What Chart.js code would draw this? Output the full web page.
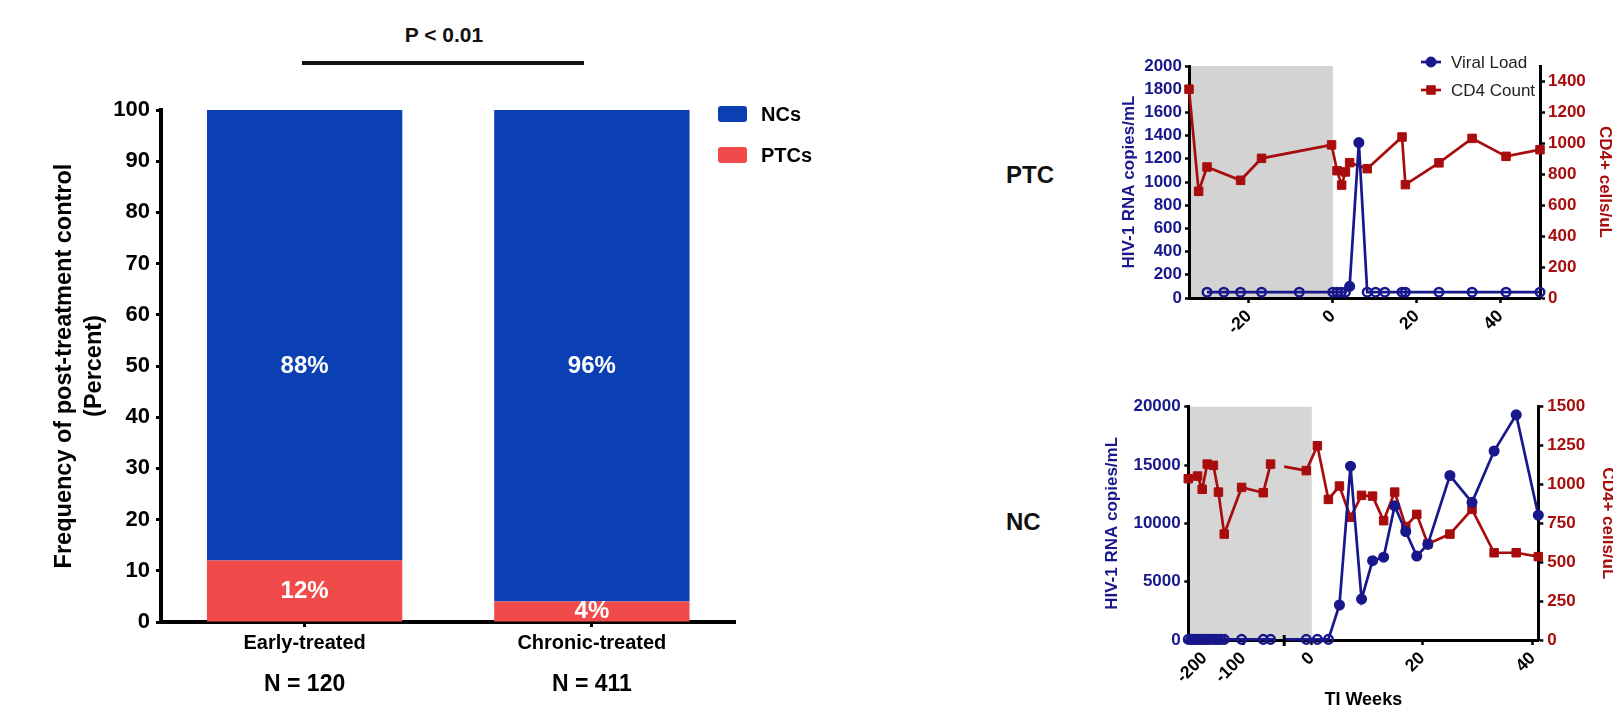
<!DOCTYPE html>
<html>
<head>
<meta charset="utf-8">
<script src="https://cdn.jsdelivr.net/npm/chart.js@4.4.1/dist/chart.umd.min.js"></script>
<style>
    html, body { margin: 0; padding: 0; background: #fff; }
    body { width: 1613px; height: 709px; position: relative; overflow: hidden; font-family: 'Liberation Sans', Arial, sans-serif; }
    canvas { position: absolute; }
    #pValue { position: absolute; left: 344px; width: 200px; top: 22px; text-align: center; font-size: 21px; line-height: 26px; font-weight: bold; color: #111; }
    #pBar { position: absolute; left: 302px; top: 61px; width: 282px; height: 4px; background: #111; }
    .panelLabel { position: absolute; left: 1006px; font-size: 24px; line-height: 28px; font-weight: bold; color: #111; }
</style>
</head>
<body>

<div id="pValue">P &lt; 0.01</div>
<div id="pBar"></div>
<div class="panelLabel" style="top:161px;">PTC</div>
<div class="panelLabel" style="top:508px;">NC</div>

<canvas id="barChart" width="1000" height="709" style="left:0;top:0;"></canvas>
<canvas id="ptcChart" width="570" height="310" style="left:1060px;top:30px;"></canvas>
<canvas id="ncChart" width="570" height="350" style="left:1060px;top:370px;"></canvas>

<script>
/***************** DATA *****************/

// left panel: outcome by treatment timing
const treatmentGroups = ['Early-treated', 'Chronic-treated'];
const groupSizes = ['N = 120', 'N = 411'];
const ptcPercent = [12, 4];
const ncPercent = [88, 96];
const percentTicks = [0, 10, 20, 30, 40, 50, 60, 70, 80, 90, 100];

// PTC participant (weeks relative to treatment interruption)
const ptcVLWeeks = [-30, -26, -22, -17, -8, 0, 1, 2, 3, 4, 6.2, 8.2, 10.2, 12.4, 16.5, 17.3, 25.3, 33.2, 41.3, 49.4];
const ptcViralLoad = [50, 50, 50, 50, 50, 50, 50, 50, 50, 100, 1340, 50, 50, 50, 50, 50, 50, 50, 50, 50];
const ptcCD4Weeks = [-34.3, -32, -30, -22, -17, -0.3, 1, 2.1, 3, 4, 8.2, 16.5, 17.3, 25.3, 33.2, 41.3, 49.4];
const ptcCD4 = [1350, 690, 847, 761, 903, 990, 823, 730, 815, 875, 836, 1041, 733, 874, 1032, 916, 959];
const ptcWeekTicks = [-20, 0, 20, 40];
const ptcVLTicks = [0, 200, 400, 600, 800, 1000, 1200, 1400, 1600, 1800, 2000];
const ptcCD4Ticks = [0, 200, 400, 600, 800, 1000, 1200, 1400];

// NC participant
const ncVLWeeks = [-242, -235, -229, -224, -218, -212, -206, -199, -193, -186, -177, -170, -164, -157, -149, -104, -48, -29,
                   -1, 1, 3, 5, 7, 9, 11, 13, 15, 17, 19, 21, 25, 29, 33, 37, 41];
const ncViralLoad = [50, 50, 50, 50, 50, 50, 50, 50, 50, 50, 50, 50, 50, 50, 50, 50, 50, 50,
                     50, 50, 50, 3000, 14900, 3500, 6800, 7100, 11500, 9300, 7200, 8200, 14100, 11800, 16200, 19300, 10700];
const ncCD4Weeks = [-242, -218, -206, -193, -177, -164, -149, -104, -48, -29,
                    -1, 1, 3, 5, 7, 9, 11, 13, 15, 17, 19, 21, 25, 29, 33, 37, 41];
const ncCD4 = [1037, 1054, 969, 1131, 1123, 951, 681, 981, 947, 1131,
               1089, 1249, 904, 990, 789, 930, 925, 767, 951, 730, 808, 617, 681, 840, 561, 561, 536];
const ncWeekTicks = [-200, -100, 0, 20, 40];
const ncVLTicks = [0, 5000, 10000, 15000, 20000];
const ncCD4Ticks = [0, 250, 500, 750, 1000, 1250, 1500];

const detectionLimit = 50;

/***************** COLOURS / DEFAULTS *****************/
const ncBlue = '#0b40b5';
const ptcRed = '#f04a4a';
const navy = '#18188c';
const crimson = '#a80c0c';
const fontStack = "'Liberation Sans', Arial, sans-serif";

Chart.defaults.font.family = fontStack;
Chart.defaults.color = '#000';
Chart.defaults.animation = false;
Chart.defaults.events = [];
Chart.defaults.plugins.legend.display = false;
Chart.defaults.plugins.tooltip.enabled = false;

/***************** GENERIC SETTINGS *****************/
function tickFont(size) {
    return { size: size, weight: 'bold' };
}

function createAxisBorder(width) {
    return { display: true, color: '#000', width: width };
}

function createTickMarks(length, width) {
    return {
        drawOnChartArea: false,
        drawTicks: true,
        tickLength: length,
        tickWidth: width,
        tickColor: '#000'
    };
}

function createAxisTitle(text, color, size, pad) {
    return {
        display: true,
        text: text,
        color: color,
        font: { size: size, weight: 'bold' },
        padding: { top: pad, bottom: pad }
    };
}

function createTicks(color, size, padding, rotate) {
    const t = { color: color, font: tickFont(size), padding: padding, autoSkip: false, callback: v => String(v) };
    if (rotate) {
        t.minRotation = 45;
        t.maxRotation = 45;
    }
    return t;
}

function fixedTicks(values) {
    return function (scale) {
        scale.ticks = values.map(v => ({ value: v }));
    };
}

function toPoints(xs, ys) {
    return xs.map((x, i) => ({ x: x, y: ys[i] }));
}

// linear axis cut into pieces, like a broken axis in Prism
class SegmentedScale extends Chart.LinearScale {
    getPixelForValue(value) {
        const segs = this.options.segments;
        let seg = segs[segs.length - 1];
        for (let i = 0; i < segs.length; i++) {
            if (value <= segs[i].max) { seg = segs[i]; break; }
        }
        const t = (value - seg.min) / (seg.max - seg.min);
        return this.getPixelForDecimal(seg.from + t * (seg.to - seg.from));
    }
    getValueForPixel(pixel) {
        const d = this.getDecimalForPixel(pixel);
        const segs = this.options.segments;
        for (let i = 0; i < segs.length; i++) {
            const s = segs[i];
            if (d <= s.to) return s.min + (d - s.from) / (s.to - s.from) * (s.max - s.min);
        }
        return segs[segs.length - 1].max;
    }
}
SegmentedScale.id = 'segmented';
SegmentedScale.defaults = Chart.LinearScale.defaults;
Chart.register(SegmentedScale);

// leave a gap in a line where it jumps over the axis break
function breakGapDash(ctx) {
    const x = ctx.chart.scales.x;
    const segs = x.options.segments;
    if (!segs || segs.length < 2) return undefined;
    const gapStart = x.getPixelForDecimal(segs[0].to);
    const gapEnd = x.getPixelForDecimal(segs[1].from);
    const p0 = ctx.p0, p1 = ctx.p1;
    if (!(p0.x < gapStart && p1.x > gapEnd)) return undefined;
    const dx = p1.x - p0.x;
    const len = Math.hypot(dx, p1.y - p0.y);
    const k = len / dx;
    return [(gapStart - p0.x) * k, (gapEnd - gapStart) * k, len];
}

/***************** PLUGINS *****************/
const barLabels = {
    id: 'barLabels',
    afterDatasetsDraw(chart) {
        const ctx = chart.ctx;
        const y = chart.scales.y;
        const meta = chart.getDatasetMeta(0);
        ctx.save();
        ctx.fillStyle = '#fff';
        ctx.font = 'bold 24px ' + fontStack;
        ctx.textAlign = 'center';
        ctx.textBaseline = 'middle';
        ptcPercent.forEach((v, i) => {
            const x = meta.data[i].x;
            ctx.fillText(v + '%', x, y.getPixelForValue(v / 2));
            ctx.fillText(ncPercent[i] + '%', x, y.getPixelForValue((v + ncPercent[i]) / 2));
        });
        ctx.restore();
    }
};

const boxLegend = {
    id: 'boxLegend',
    afterDraw(chart, args, opts) {
        const ctx = chart.ctx;
        ctx.save();
        ctx.font = 'bold 20px ' + fontStack;
        ctx.textBaseline = 'middle';
        opts.order.forEach((dsIndex, i) => {
            const ds = chart.data.datasets[dsIndex];
            const top = opts.top + i * opts.spacing;
            ctx.fillStyle = ds.backgroundColor;
            ctx.beginPath();
            ctx.roundRect(opts.left, top, 29, 16, 3);
            ctx.fill();
            ctx.fillStyle = '#000';
            ctx.fillText(ds.label, opts.left + 43, top + 9);
        });
        ctx.restore();
    }
};

const lineLegend = {
    id: 'lineLegend',
    afterDraw(chart, args, opts) {
        const ctx = chart.ctx;
        ctx.save();
        ctx.font = '17px ' + fontStack;
        ctx.textBaseline = 'middle';
        chart.data.datasets.forEach((ds, i) => {
            const y = opts.top + i * opts.spacing;
            ctx.strokeStyle = ds.borderColor;
            ctx.lineWidth = ds.borderWidth;
            ctx.beginPath();
            ctx.moveTo(opts.left, y);
            ctx.lineTo(opts.left + 20, y);
            ctx.stroke();
            ctx.fillStyle = ds.borderColor;
            ctx.lineWidth = 1;
            Chart.helpers.drawPoint(ctx, { pointStyle: ds.pointStyle, radius: ds.pointStyle === 'rect' ? 6 : 5, borderWidth: 1, rotation: 0 }, opts.left + 10, y);
            ctx.fillStyle = '#222';
            ctx.fillText(ds.label, opts.left + 30, y + 1);
        });
        ctx.restore();
    }
};

const treatmentShade = {
    id: 'treatmentShade',
    beforeDraw(chart, args, opts) {
        const { ctx, chartArea } = chart;
        const right = chart.scales.x.getPixelForValue(opts.until);
        ctx.save();
        ctx.fillStyle = opts.color;
        ctx.fillRect(chartArea.left, chartArea.top, right - chartArea.left, chartArea.bottom - chartArea.top);
        ctx.restore();
    }
};

const axisBreak = {
    id: 'axisBreak',
    afterDraw(chart) {
        const ctx = chart.ctx;
        const x = chart.scales.x;
        const segs = x.options.segments;
        ctx.save();
        ctx.strokeStyle = '#000';
        ctx.lineWidth = 3;
        for (let i = 1; i < segs.length; i++) {
            const px = x.getPixelForDecimal(segs[i].from);
            ctx.beginPath();
            ctx.moveTo(px, x.top - 5);
            ctx.lineTo(px, x.top + 6);
            ctx.stroke();
        }
        ctx.restore();
    }
};

/***************** BAR CHART *****************/
new Chart(document.getElementById('barChart'), {
    type: 'bar',
    data: {
        labels: treatmentGroups,
        datasets: [
            { label: 'PTCs', data: ptcPercent, backgroundColor: ptcRed, barPercentage: 1, categoryPercentage: 0.68 },
            { label: 'NCs', data: ncPercent, backgroundColor: ncBlue, barPercentage: 1, categoryPercentage: 0.68 }
        ]
    },
    options: {
        responsive: false,
        layout: { padding: { left: 0, top: 110, right: 264.5, bottom: 0 } },
        scales: {
            x: {
                stacked: true,
                border: createAxisBorder(4),
                grid: Object.assign(createTickMarks(5, 3), { offset: false }),
                ticks: { color: '#000', font: tickFont(20), padding: 4 },
                afterFit: s => { s.height = 33; }
            },
            groupSize: {
                type: 'category',
                labels: groupSizes,
                position: 'bottom',
                weight: 1,
                offset: true,
                border: { display: false },
                grid: { display: false },
                ticks: { color: '#000', font: tickFont(23), padding: 8 },
                afterFit: s => { s.height = 54; }
            },
            y: {
                stacked: true,
                min: 0,
                max: 100,
                border: createAxisBorder(4),
                grid: createTickMarks(5, 3),
                afterBuildTicks: fixedTicks(percentTicks),
                ticks: createTicks('#000', 22, 6, false),
                title: {
                    display: true,
                    text: ['Frequency of post-treatment control', '(Percent)'],
                    color: '#000',
                    font: { size: 23.5, weight: 'bold', lineHeight: 1.27 },
                    padding: { top: 50, bottom: 0 }
                },
                afterFit: s => { s.width = 161; }
            }
        },
        plugins: {
            boxLegend: { left: 718, top: 106, spacing: 41, order: [1, 0] }
        }
    },
    plugins: [barLabels, boxLegend]
});

/***************** PTC TIME COURSE *****************/
new Chart(document.getElementById('ptcChart'), {
    type: 'line',
    data: {
        datasets: [{
            label: 'Viral Load',
            yAxisID: 'y',
            data: toPoints(ptcVLWeeks, ptcViralLoad),
            borderColor: navy,
            borderWidth: 2.7,
            pointStyle: 'circle',
            pointRadius: 4.3,
            pointBorderWidth: 2.5,
            pointBorderColor: navy,
            pointBackgroundColor: ptcViralLoad.map(v => v <= detectionLimit ? 'rgba(0,0,0,0)' : navy),
            clip: false
        }, {
            label: 'CD4 Count',
            yAxisID: 'y1',
            data: toPoints(ptcCD4Weeks, ptcCD4),
            borderColor: crimson,
            borderWidth: 2.7,
            pointStyle: 'rect',
            pointRadius: 6,
            pointBorderWidth: 1,
            pointBorderColor: crimson,
            pointBackgroundColor: crimson,
            clip: false
        }]
    },
    options: {
        responsive: false,
        layout: { padding: { left: 0, top: 36, right: 0, bottom: 0 } },
        scales: {
            x: {
                type: 'linear',
                min: -34.3,
                max: 49.4,
                border: createAxisBorder(3),
                grid: createTickMarks(5, 2.5),
                afterBuildTicks: fixedTicks(ptcWeekTicks),
                ticks: createTicks('#000', 17.5, 3, true),
                afterFit: s => { s.height = 42; }
            },
            y: {
                position: 'left',
                min: 0,
                max: 2000,
                border: createAxisBorder(3),
                grid: createTickMarks(4, 2.5),
                afterBuildTicks: fixedTicks(ptcVLTicks),
                ticks: createTicks(navy, 17, 3, false),
                title: createAxisTitle('HIV-1 RNA copies/mL', navy, 17, 58.8),
                afterFit: s => { s.width = 129; }
            },
            y1: {
                position: 'right',
                min: 0,
                max: 1500,
                border: createAxisBorder(3),
                grid: createTickMarks(5, 2.5),
                afterBuildTicks: fixedTicks(ptcCD4Ticks),
                ticks: createTicks(crimson, 17, 3, false),
                title: createAxisTitle('CD4+ cells/uL', crimson, 17, 14.8),
                afterFit: s => { s.width = 90; }
            }
        },
        plugins: {
            treatmentShade: { until: 0, color: '#d3d3d3' },
            lineLegend: { left: 361, top: 32, spacing: 28 }
        }
    },
    plugins: [treatmentShade, lineLegend]
});

/***************** NC TIME COURSE *****************/
new Chart(document.getElementById('ncChart'), {
    type: 'line',
    data: {
        datasets: [{
            label: 'Viral Load',
            yAxisID: 'y',
            data: toPoints(ncVLWeeks, ncViralLoad),
            borderColor: navy,
            borderWidth: 2.7,
            pointStyle: 'circle',
            pointRadius: 4.3,
            pointBorderWidth: 2.5,
            pointBorderColor: navy,
            pointBackgroundColor: ncViralLoad.map(v => v <= detectionLimit ? 'rgba(0,0,0,0)' : navy),
            segment: { borderDash: breakGapDash },
            clip: false
        }, {
            label: 'CD4 Count',
            yAxisID: 'y1',
            data: toPoints(ncCD4Weeks, ncCD4),
            borderColor: crimson,
            borderWidth: 2.7,
            pointStyle: 'rect',
            pointRadius: 6,
            pointBorderWidth: 1,
            pointBorderColor: crimson,
            pointBackgroundColor: crimson,
            segment: { borderDash: breakGapDash },
            clip: false
        }]
    },
    options: {
        responsive: false,
        layout: { padding: { left: 0, top: 36.7, right: 0, bottom: 0 } },
        scales: {
            x: {
                type: 'segmented',
                min: -242,
                max: 41,
                segments: [
                    { min: -242, max: -20, from: 0, to: 0.245 },
                    { min: -5, max: 41, from: 0.274, to: 1 }
                ],
                border: createAxisBorder(3),
                grid: createTickMarks(5, 2.5),
                afterBuildTicks: fixedTicks(ncWeekTicks),
                ticks: createTicks('#000', 17.5, 3, true),
                title: { display: true, text: 'TI Weeks', color: '#000', font: { size: 18, weight: 'bold' }, padding: { top: 0, bottom: 9.2 } },
                afterFit: s => { s.height = 80; }
            },
            y: {
                position: 'left',
                min: 0,
                max: 20000,
                border: createAxisBorder(3),
                grid: createTickMarks(4, 2.5),
                afterBuildTicks: fixedTicks(ncVLTicks),
                ticks: createTicks(navy, 17, 3.6, false),
                title: createAxisTitle('HIV-1 RNA copies/mL', navy, 17, 42.1),
                afterFit: s => { s.width = 128.3; }
            },
            y1: {
                position: 'right',
                min: 0,
                max: 1500,
                border: createAxisBorder(3),
                grid: createTickMarks(5, 2.5),
                afterBuildTicks: fixedTicks(ncCD4Ticks),
                ticks: createTicks(crimson, 17, 4, false),
                title: createAxisTitle('CD4+ cells/uL', crimson, 17, 12.5),
                afterFit: s => { s.width = 91.7; }
            }
        },
        plugins: {
            treatmentShade: { until: 0, color: '#d6d6d6' }
        }
    },
    plugins: [treatmentShade, axisBreak]
});
</script>
</body>
</html>
